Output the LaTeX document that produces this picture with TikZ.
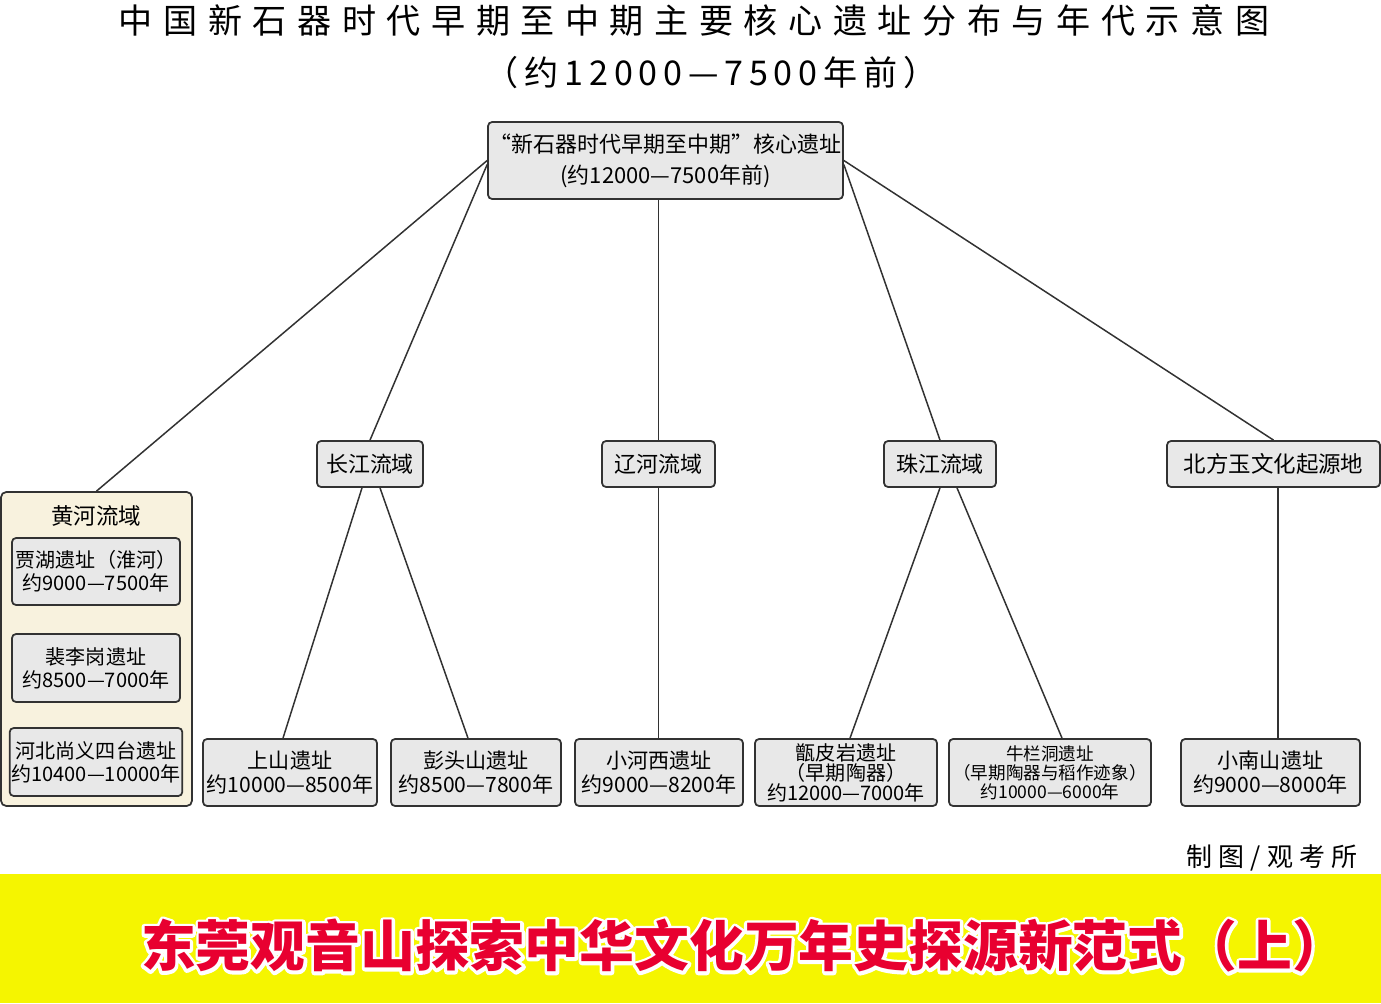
\documentclass[tikz,border=0pt]{standalone}
\usepackage{fontspec}
\setmainfont{Noto Sans CJK SC}
\newfontfamily\titlefont[LetterSpace=31]{Noto Sans CJK SC}
\newfontfamily\subfont[LetterSpace=17]{Noto Sans CJK SC}
\newfontfamily\signfont[LetterSpace=23]{Noto Sans CJK SC}
\usetikzlibrary{calc}
\definecolor{cbox}{RGB}{232,232,232}
\definecolor{cgrp}{RGB}{248,242,222}
\definecolor{cline}{RGB}{50,50,50}
\definecolor{cband}{RGB}{245,245,0}
\definecolor{cred}{RGB}{232,0,48}
% white stroked text for the banner halo
\newcommand\halotext[1]{\special{pdf:literal direct 2 Tr 1 1 1 RG 3.6 w 1 j}#1}

\begin{document}
\begin{tikzpicture}[x=0.02cm,y=-0.02cm,line width=0.85pt,
   sz/.style 2 args={minimum width=#1*0.02cm,minimum height=#2*0.02cm},
   box/.style={draw=cline,line width=1pt,fill=cbox,rounded corners=2.3pt,align=center,inner sep=1pt,
     font=\fontsize{12}{13.7}\selectfont},
   grp/.style={draw=cline,line width=1pt,fill=cgrp,rounded corners=3pt},
   lk/.style={draw=cline},
   bann/.style={font=\fontsize{31.2}{32}\selectfont\bfseries}]
  \useasboundingbox (0,0) rectangle (1381,1003);
  % heading
  \node[font=\titlefont\fontsize{19.4}{20}\selectfont] (ttl) at (694,20)
    {中国新石器时代早期至中期主要核心遗址分布与年代示意图};
  \node[font=\subfont\fontsize{19.4}{20}\selectfont] (ttl2) at (711,73) {（约12000—7500年前）};
  % root
  \node[box,sz={353}{77},font=\fontsize{12.5}{17.6}\selectfont] (top) at (665.5,160.5)
    {“新石器时代早期至中期”核心遗址\\(约12000—7500年前)};
  % basins
  \node[grp,sz={191}{314}] (hh) at (96.5,649) {};
  \node[font=\fontsize{12.8}{14}\selectfont] (hhlab) at (96,516) {黄河流域};
  \node[box,sz={106}{46},font=\fontsize{12.5}{14}\selectfont] (cj) at (370,464) {长江流域};
  \node[box,sz={113}{46},font=\fontsize{12.5}{14}\selectfont] (lh) at (658.5,464) {辽河流域};
  \node[box,sz={112}{46},font=\fontsize{12.5}{14}\selectfont] (zj) at (940,464) {珠江流域};
  \node[box,sz={213}{46},font=\fontsize{12.8}{14}\selectfont] (bf) at (1273.5,464) {北方玉文化起源地};
  % sites inside Huanghe
  \node[box,sz={168}{67},font=\fontsize{11.4}{13}\selectfont] (jh) at (96,571.5) {贾湖遗址（淮河）\\约9000—7500年};
  \node[box,sz={168}{68},font=\fontsize{11.4}{13}\selectfont] (plg) at (96,668) {裴李岗遗址\\约8500—7000年};
  \node[box,sz={168}{68},font=\fontsize{11.4}{13}\selectfont] (st) at (96,762) {河北尚义四台遗址\\约10400—10000年};
  % sites
  \node[box,sz={174}{67}] (ss)  at (290,772.5)  {上山遗址\\约10000—8500年};
  \node[box,sz={170}{67}] (pts) at (476,772.5)  {彭头山遗址\\约8500—7800年};
  \node[box,sz={168}{67}] (hxx) at (659,772.5)  {小河西遗址\\约9000—8200年};
  \node[box,sz={182}{67},font=\fontsize{11.4}{11.4}\selectfont] (zpy) at (846,772.5)
    {甑皮岩遗址\\（早期陶器）\\约12000—7000年};
  \node[box,sz={202}{67},font=\fontsize{10}{10.8}\selectfont] (nld) at (1050,772.5)
    {牛栏洞遗址\\（早期陶器与稻作迹象）\\约10000—6000年};
  \node[box,sz={179}{67}] (xns) at (1270.5,772.5) {小南山遗址\\约9000—8000年};
  % links
  \draw[lk] (top.west) -- (hh.north);
  \draw[lk] ($(top.west)+(0,4)$) -- (cj.north);
  \draw[lk] (top.south -| lh.north) -- (lh.north);
  \draw[lk] ($(top.east)+(0,4)$) -- (zj.north);
  \draw[lk] (top.east) -- (bf.north);
  \draw[lk] ($(cj.south)+(-8,0)$) -- ($(ss.north)+(-7,0)$);
  \draw[lk] ($(cj.south)+(10,0)$) -- ($(pts.north)+(-8,0)$);
  \draw[lk] (lh.south) -- (lh.south |- hxx.north);
  \draw[lk] (zj.south) -- ($(zpy.north)+(4,0)$);
  \draw[lk] ($(zj.south)+(17,0)$) -- ($(nld.north)+(12,0)$);
  \coordinate (bfo) at ($(bf.south)+(4.5,0)$);
  \draw[lk] (bfo) -- (bfo |- xns.north);
  % footer
  \node[font=\signfont\fontsize{14.8}{16}\selectfont] (sign) at (1272,858) {制图/观考所};
  \fill[cband] (0,874) rectangle (1381,1003);
  \node[bann,text=white] (halo) at (744,946) {\halotext{东莞观音山探索中华文化万年史探源新范式（上）}};
  \node[bann,text=cred] (banner) at (halo) {东莞观音山探索中华文化万年史探源新范式（上）};
\end{tikzpicture}
\end{document}
